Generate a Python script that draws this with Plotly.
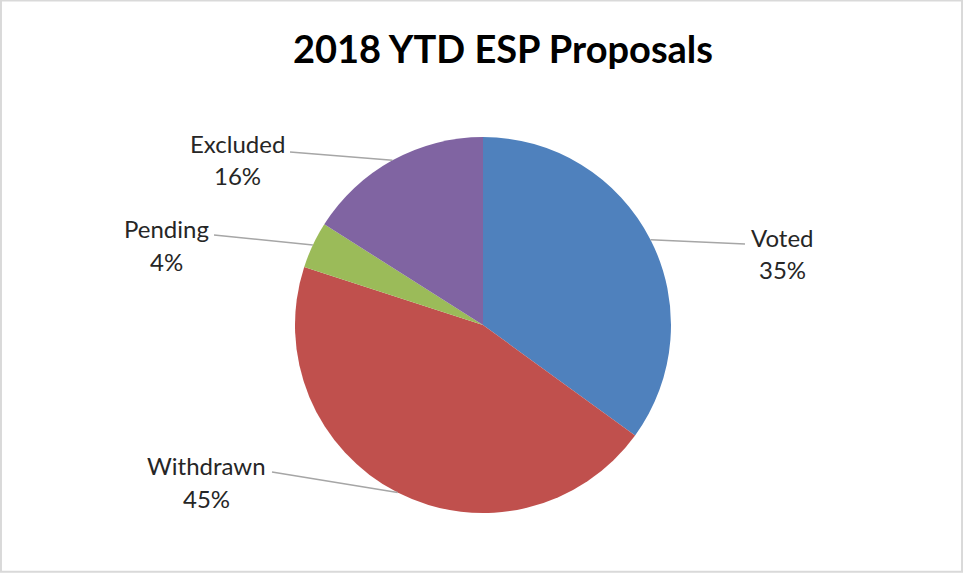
import math
import plotly.graph_objects as go

categories = ["Voted", "Withdrawn", "Pending", "Excluded"]
values = [35, 45, 4, 16]
colors = ["#4F81BD", "#C0504D", "#9BBB59", "#8064A2"]
title_text = "2018 YTD ESP Proposals"

W, H = 963, 573
cx, cy, r = 483, 325, 188  # pie centre / radius in px (layout)

# label anchor (end of leader line) and text position, in px (layout)
line_ends = [(745, 244), (272, 472), (214, 235), (290, 152)]
text_pos = [(782, 237), (206, 465), (166, 228), (237, 143)]
line_gap = 33

def px(x):
    return x / W

def py(y):
    return 1 - y / H

fig = go.Figure()
fig.add_trace(go.Pie(
    labels=categories, values=values, sort=False, direction="clockwise",
    rotation=0, marker=dict(colors=colors, line=dict(width=0)),
    textinfo="none", hoverinfo="label+percent", showlegend=False,
    domain=dict(x=[px(cx - r), px(cx + r)], y=[py(cy + r), py(cy - r)]),
))

total = sum(values)
cum = 0
shapes = [dict(type="rect", xref="paper", yref="paper", x0=0.001, y0=0.002,
               x1=0.999, y1=0.999, line=dict(color="#D9D9D9", width=2))]
annotations = []
for i, (name, v) in enumerate(zip(categories, values)):
    mid = (cum + v / 2) / total * 2 * math.pi
    cum += v
    sx = cx + r * math.sin(mid)
    sy = cy - r * math.cos(mid)
    ex, ey = line_ends[i]
    shapes.append(dict(type="line", xref="paper", yref="paper",
                       x0=px(sx), y0=py(sy), x1=px(ex), y1=py(ey),
                       line=dict(color="#A6A6A6", width=1.5)))
    tx, ty = text_pos[i]
    pct = f"{round(v / total * 100)}%"
    for k, t in enumerate([name, pct]):
        annotations.append(dict(text=t, xref="paper", yref="paper",
                                x=px(tx), y=py(ty + k * line_gap),
                                xanchor="center", yanchor="middle",
                                showarrow=False,
                                font=dict(family="Lato", size=24, color="#262626")))

annotations.append(dict(text=f"<b>{title_text}</b>", xref="paper", yref="paper",
                        x=px(503), y=py(48), xanchor="center", yanchor="middle",
                        showarrow=False,
                        font=dict(family="Lato", size=38, color="#000000")))

fig.update_layout(width=W, height=H, margin=dict(l=0, r=0, t=0, b=0),
                  paper_bgcolor="white", plot_bgcolor="white",
                  shapes=shapes, annotations=annotations)
fig.write_html("out.html")
